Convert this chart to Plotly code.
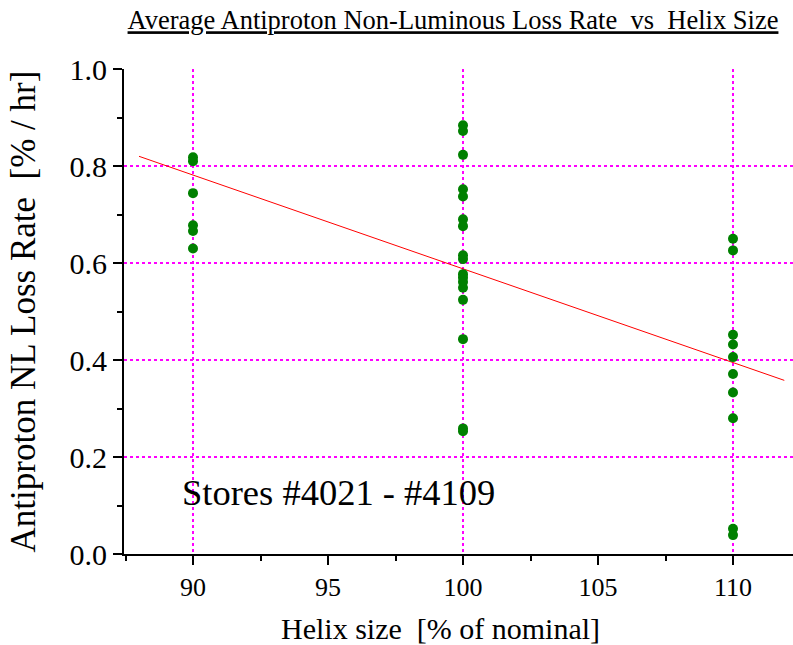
import plotly.graph_objects as go

# Helix size settings [% of nominal]
helix_90 = [90] * 6
helix_100 = [100] * 17
helix_110 = [110] * 10

# Average antiproton non-luminous loss rate [% / hr] per store
loss_90 = [0.818, 0.810, 0.744, 0.678, 0.666, 0.630]
loss_100 = [0.884, 0.872, 0.823, 0.752, 0.737, 0.690, 0.676, 0.616, 0.608,
            0.577, 0.570, 0.561, 0.549, 0.524, 0.443, 0.259, 0.253]
loss_110 = [0.650, 0.626, 0.452, 0.432, 0.406, 0.371, 0.333, 0.280, 0.052, 0.039]

# Linear fit line end points
fit_x = [88.0, 111.9]
fit_y = [0.820, 0.358]

x_ticks = [90, 95, 100, 105, 110]
y_ticks = [0.0, 0.2, 0.4, 0.6, 0.8, 1.0]
y_tick_text = ["0.0", "0.2", "0.4", "0.6", "0.8", "1.0"]

SERIF = "Times New Roman"
GRID = "#ff00ff"
NB = "\u00a0"

xs = helix_90 + helix_100 + helix_110
ys = loss_90 + loss_100 + loss_110

xrange = [87.4444, 112.2222]

fig = go.Figure()
# empty trace on the overlay axis so its grid is drawn
fig.add_trace(go.Scatter(x=[None], y=[None], xaxis="x2", showlegend=False, hoverinfo="skip"))
fig.add_trace(go.Scatter(
    x=fit_x, y=fit_y, mode="lines",
    line=dict(color="#ff0000", width=1), showlegend=False, hoverinfo="skip"))
fig.add_trace(go.Scatter(
    x=xs, y=ys, mode="markers",
    marker=dict(color="#008000", size=10, line=dict(width=0)),
    showlegend=False, cliponaxis=False))

fig.update_layout(
    width=793, height=645,
    margin=dict(l=124, r=0, t=69, b=91),
    paper_bgcolor="white", plot_bgcolor="white",
    font=dict(family=SERIF, color="black"),
    title=dict(
        text="<u>Average Antiproton Non-Luminous Loss Rate" + NB * 2 + "vs" + NB * 2 + "Helix Size</u>",
        font=dict(family=SERIF, size=26.5, color="black"),
        x=453 / 793, xanchor="center", xref="container",
        y=1 - 20 / 645, yanchor="middle", yref="container"),
    xaxis=dict(
        range=xrange, tickvals=x_ticks, ticktext=[str(v) for v in x_ticks],
        showgrid=False, zeroline=False,
        showline=True, linecolor="black", linewidth=2,
        ticks="outside", ticklen=9, tickwidth=2, tickcolor="black",
        minor=dict(dtick=2.5, tick0=87.5, ticks="outside", ticklen=5,
                   tickwidth=2, tickcolor="black", showgrid=False),
        tickfont=dict(family=SERIF, size=26),
    ),
    xaxis2=dict(
        range=xrange, overlaying="x", side="bottom", dtick=10, tick0=90,
        showgrid=True, gridcolor=GRID, griddash="dot", gridwidth=1.5,
        showticklabels=False, ticks="", showline=False, zeroline=False),
    yaxis=dict(
        range=[0, 1.0], tickvals=y_ticks, ticktext=y_tick_text,
        showgrid=True, gridcolor=GRID, griddash="dot", gridwidth=1.5,
        zeroline=False,
        showline=True, linecolor="black", linewidth=2,
        ticks="outside", ticklen=9, tickwidth=2, tickcolor="black",
        minor=dict(dtick=0.1, tick0=0.1, ticks="outside", ticklen=5,
                   tickwidth=2, tickcolor="black", showgrid=False),
        tickfont=dict(family=SERIF, size=30),
        title=dict(text="Antiproton NL Loss Rate" + NB * 2 + "[% / hr]",
                   font=dict(family=SERIF, size=35), standoff=23),
    ),
    annotations=[
        dict(text="Stores #4021 - #4109", x=89.52, y=0.126, xref="x", yref="y",
             xanchor="left", yanchor="middle", showarrow=False,
             font=dict(family=SERIF, size=36.5, color="black")),
        dict(text="Helix size" + NB * 2 + "[% of nominal]",
             x=(440 - 124) / 669, y=-(628 - 554) / 485, xref="paper", yref="paper",
             xanchor="center", yanchor="middle", showarrow=False,
             font=dict(family=SERIF, size=30, color="black")),
    ],
)

fig.write_html("out.html")
